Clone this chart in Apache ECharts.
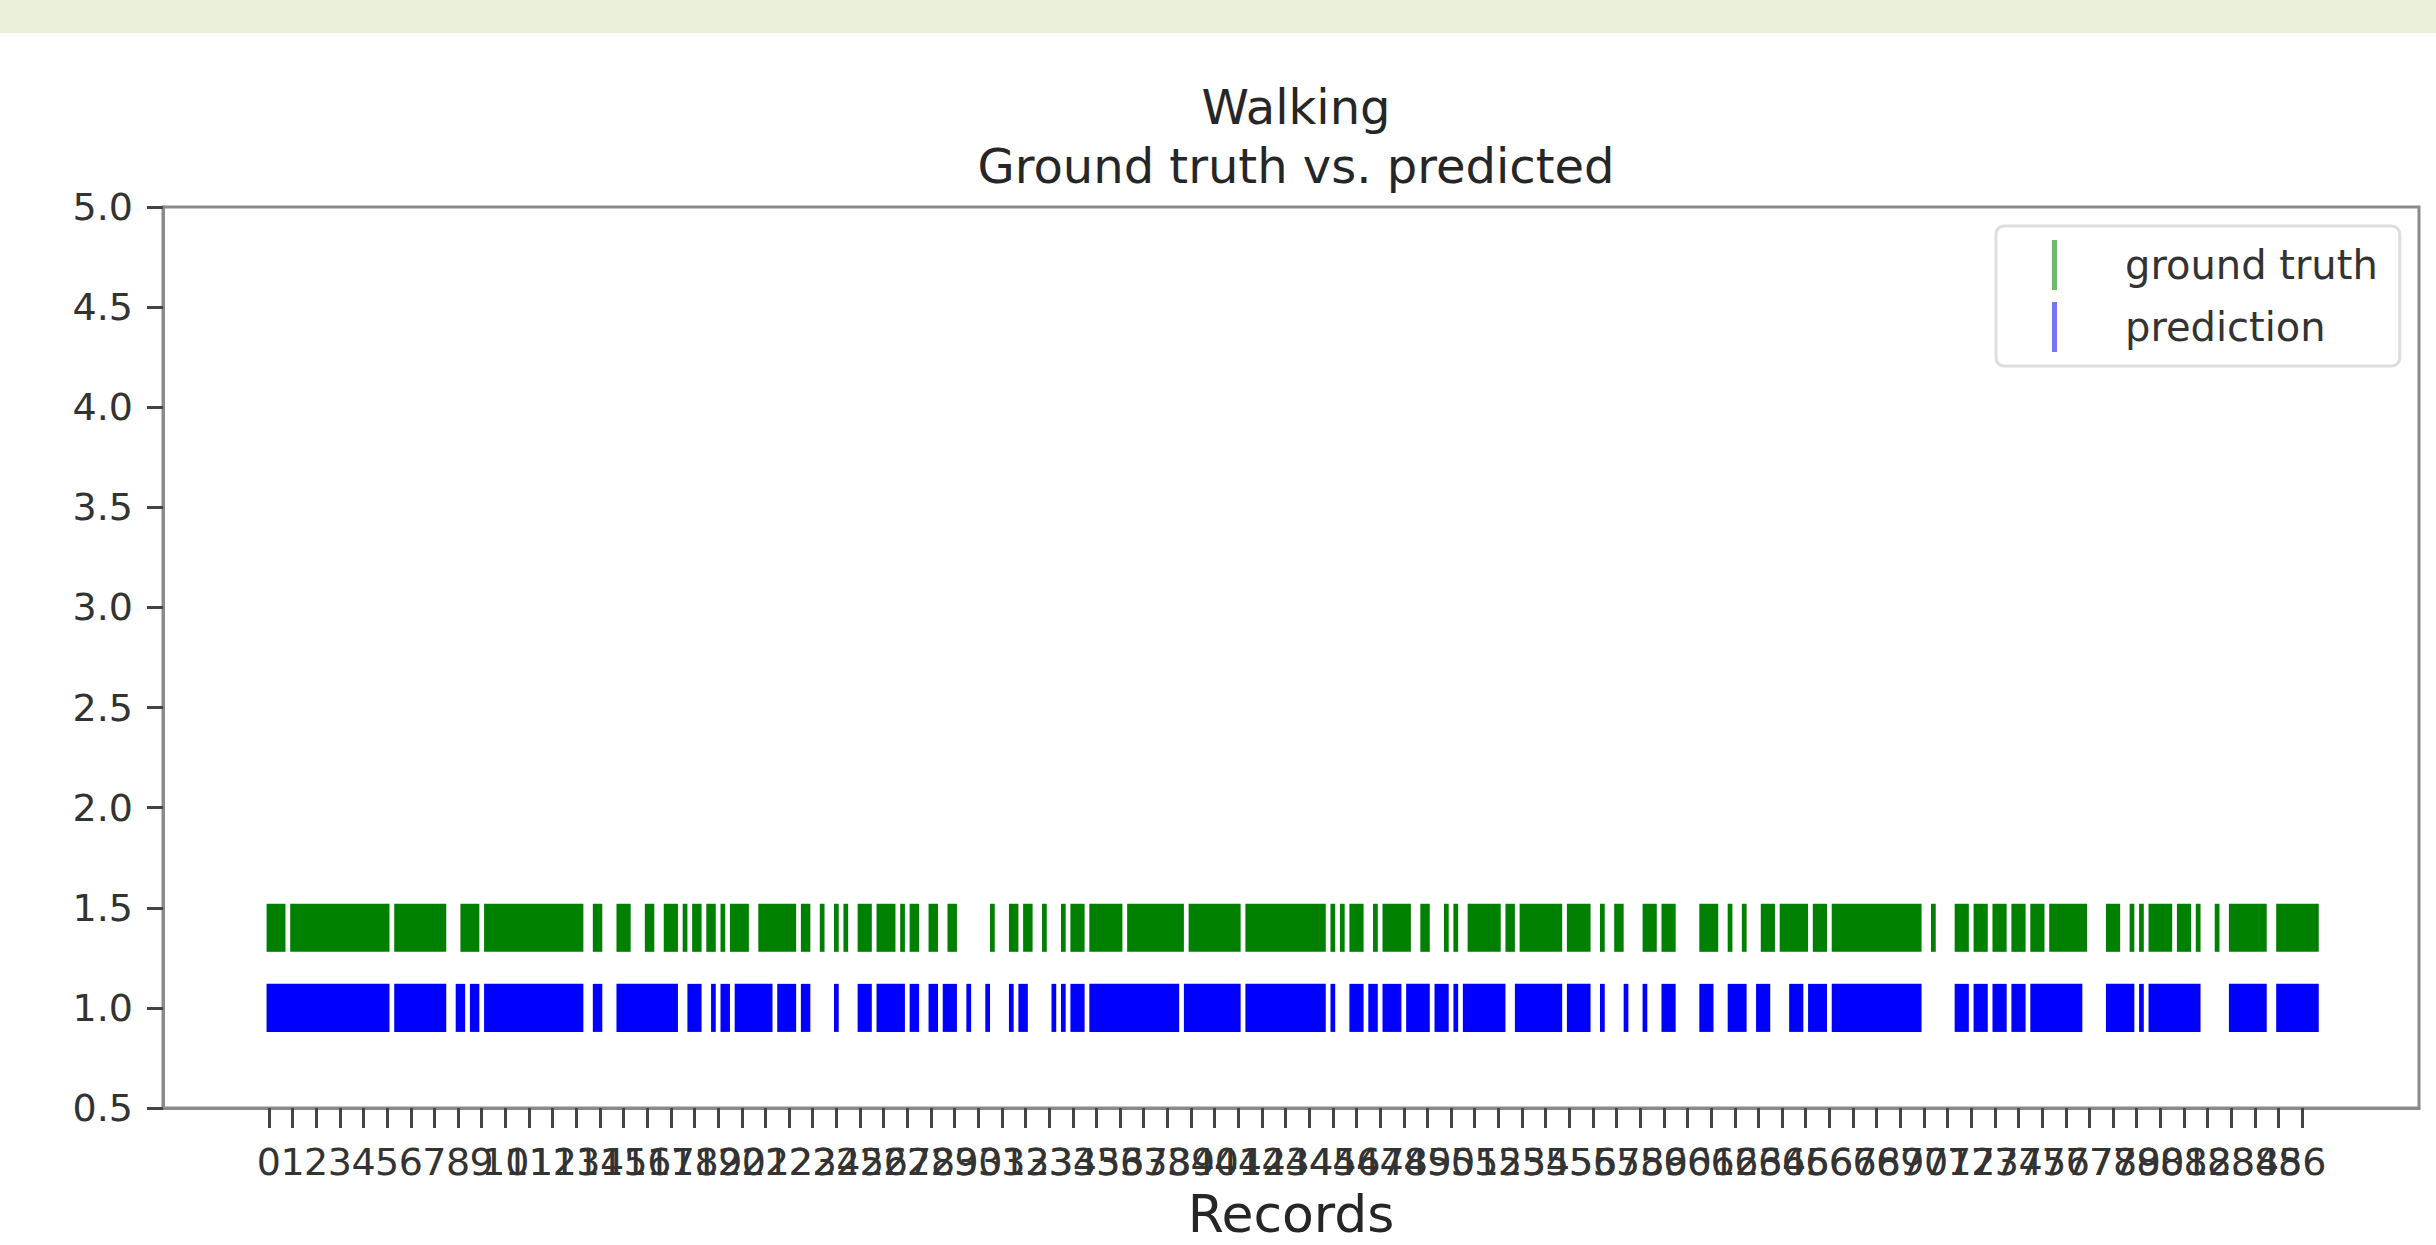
<!DOCTYPE html>
<html>
<head>
<meta charset="utf-8">
<script src="https://cdn.jsdelivr.net/npm/echarts@6/dist/echarts.min.js"></script>
<style>
  html, body { margin: 0; padding: 0; background: #ffffff; }
  #band { position: absolute; left: 0; top: 0; width: 2436px; height: 33px; background: #e9f0da; }
  #chart { position: absolute; left: 0; top: 0; width: 2436px; height: 1245px; }
</style>
</head>
<body>
<div id="band"></div>
<div id="chart"></div>
<script>
// ---- data (record index runs [first, last] where the activity is "Walking") ----
const groundTruthRuns = [
  [0,3],[5,25],[27,37],[41,44],[46,66],[69,70],[74,76],[80,81],[84,86],[88,88],[90,91],[93,94],
  [96,96],[98,101],[104,111],[113,114],[117,117],[120,120],[122,122],[125,127],[129,132],[134,134],
  [136,137],[140,141],[144,145],[153,153],[157,158],[160,161],[164,164],[168,168],[170,172],[174,180],
  [182,193],[195,205],[207,223],[225,225],[227,227],[229,231],[234,234],[236,241],[244,245],[249,249],
  [251,251],[254,260],[262,263],[265,273],[275,279],[282,282],[285,286],[291,293],[295,297],[303,306],
  [309,309],[312,312],[316,318],[320,325],[327,329],[331,349],[352,352],[357,359],[361,363],[365,367],
  [369,371],[373,375],[377,384],[389,391],[394,394],[396,396],[398,402],[404,406],[408,408],[412,412],
  [415,422],[425,433]
];
const predictionRuns = [
  [0,25],[27,37],[40,41],[43,44],[46,66],[69,70],[74,86],[89,91],[94,94],[96,97],[99,106],[108,111],
  [113,114],[120,120],[125,127],[129,134],[136,137],[140,141],[143,145],[148,148],[152,152],[157,157],
  [159,160],[166,166],[168,168],[170,172],[174,192],[194,205],[207,223],[225,225],[229,231],[233,234],
  [236,239],[241,245],[247,249],[251,251],[253,261],[264,273],[275,279],[282,282],[287,287],[291,291],
  [295,297],[303,305],[309,312],[315,317],[322,324],[326,329],[331,349],[357,359],[361,363],[365,367],
  [369,371],[373,383],[389,394],[396,396],[398,408],[415,422],[425,433]
];
const groundTruthLevel = 1.4;
const predictionLevel = 1.0;
const recordsPerTick = 5;
const xTickLabels = ['0','1','2','3','4','5','6','7','8','9','10','11','12','13','14','15','16','17','18','19',
  '20','21','22','23','24','25','26','27','28','29','30','31','32','33','34','35','36','37','38','39',
  '40','41','42','43','44','45','46','47','48','49','50','51','52','53','54','55','56','57','58','59',
  '60','61','62','63','64','65','66','67','68','69','70','71','72','73','74','75','76','77','78','79',
  '80','81','82','83','84','85','86'];
const yTickValues = ['0.5','1.0','1.5','2.0','2.5','3.0','3.5','4.0','4.5','5.0'];

// ---- chart ----
const xTickPositions = xTickLabels.map((l, i) => i * recordsPerTick);
const FONT = 'DejaVu Sans';
const HALF = 0.12; // half marker height in y units
const X_MIN = -22.4, X_MAX = 454.7;

function runRenderer(color) {
  return function (params, api) {
    const s = api.value(0), e = api.value(1), y = api.value(2);
    const p0 = api.coord([s - 0.5, y + HALF]);
    const p1 = api.coord([e + 0.5, y - HALF]);
    return {
      type: 'rect',
      shape: { x: p0[0], y: p0[1], width: p1[0] - p0[0], height: p1[1] - p0[1] },
      style: { fill: color }
    };
  };
}

// The tick labels overlap each other (as in the original); split them over three
// identical bottom axes so the library does not drop any of them.
function labelAxis(phase, main) {
  const labelPositions = xTickPositions.filter((p, i) => i % 3 === phase);
  return {
    type: 'value', position: 'bottom', offset: 0,
    min: X_MIN, max: X_MAX,
    name: main ? 'Records' : '', nameLocation: 'middle', nameGap: 82,
    nameTextStyle: { fontFamily: FONT, fontSize: 52, lineHeight: 48, color: '#262626' },
    axisLine: { show: main, onZero: false, lineStyle: { color: '#8a8a8a', width: 3 } },
    axisTick: { show: main, length: 20, lineStyle: { color: '#444444', width: 3 }, customValues: xTickPositions },
    axisLabel: {
      show: true, margin: 35, fontFamily: FONT, fontSize: 38, color: '#333333',
      customValues: labelPositions,
      formatter: v => xTickLabels[Math.round(v / recordsPerTick)]
    },
    splitLine: { show: false }
  };
}

const chart = echarts.init(document.getElementById('chart'), null, { renderer: 'svg' });
chart.setOption({
  animation: false,
  textStyle: { fontFamily: FONT },
  title: {
    text: 'Walking\nGround truth vs. predicted',
    left: 1291, top: 72, textAlign: 'center',
    textStyle: { fontFamily: FONT, fontSize: 48, fontWeight: 'normal', color: '#262626', lineHeight: 59 }
  },
  legend: {
    orient: 'vertical',
    left: 1996, top: 226,
    padding: [14, 22, 14, 56],
    itemWidth: 5, itemHeight: 50, itemGap: 12,
    icon: 'rect',
    backgroundColor: '#ffffff',
    borderColor: '#dddddd', borderWidth: 3, borderRadius: 8,
    textStyle: { fontFamily: FONT, fontSize: 40, color: '#333333', padding: [0, 0, 0, 63] },
    data: [
      { name: 'ground truth', itemStyle: { color: '#6dba6d' } },
      { name: 'prediction', itemStyle: { color: '#7474ff' } }
    ]
  },
  grid: {
    left: 163, top: 207, width: 2256, height: 901,
    outerBoundsMode: 'none', containLabel: false,
    show: true, borderColor: '#8a8a8a', borderWidth: 3, backgroundColor: '#ffffff'
  },
  xAxis: [labelAxis(0, true), labelAxis(1, false), labelAxis(2, false)],
  yAxis: {
    type: 'value',
    min: 0.5, max: 5.0, interval: 0.5,
    axisLine: { show: true, onZero: false, lineStyle: { color: '#8a8a8a', width: 3 } },
    axisTick: { show: true, length: 16, lineStyle: { color: '#444444', width: 3 } },
    axisLabel: {
      show: true, margin: 30, fontFamily: FONT, fontSize: 38, color: '#333333',
      formatter: v => yTickValues[Math.round((v - 0.5) / 0.5)]
    },
    splitLine: { show: false }
  },
  series: [
    {
      name: 'ground truth', type: 'custom', xAxisIndex: 0,
      itemStyle: { color: '#008000' },
      renderItem: runRenderer('#008000'),
      encode: { x: [0, 1], y: 2 },
      data: groundTruthRuns.map(r => [r[0], r[1], groundTruthLevel])
    },
    {
      name: 'prediction', type: 'custom', xAxisIndex: 0,
      itemStyle: { color: '#0000ff' },
      renderItem: runRenderer('#0000ff'),
      encode: { x: [0, 1], y: 2 },
      data: predictionRuns.map(r => [r[0], r[1], predictionLevel])
    }
  ]
});
</script>
</body>
</html>
